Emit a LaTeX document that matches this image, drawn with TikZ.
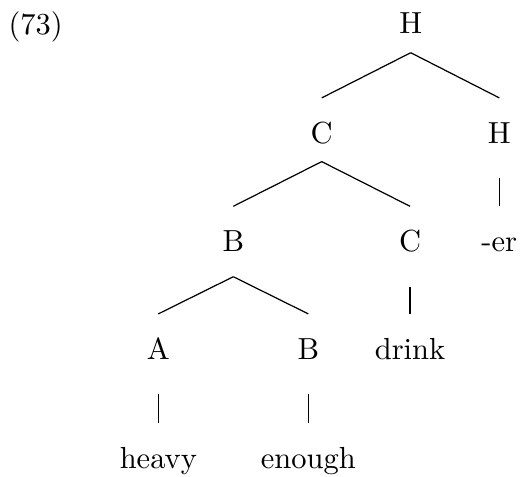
\documentclass[tikz,border=0pt]{standalone}
\begin{document}
\begin{tikzpicture}[x=0.328pt, y=-0.328pt,
    every node/.style={anchor=base, inner sep=0pt}]
    \useasboundingbox (0,0) rectangle (520,476);

    % Example number
    \node[anchor=base west] (num) at (8,34) {(73)};

    % Tree nodes, level by level
    \node (h0) at (410.7,33.5) {H};
    \node (c0) at (321.7,143.3) {C};
    \node (h1) at (499.3,143.3) {H};
    \node (b0) at (233.3,251.7) {B};
    \node (c1) at (410,251.7) {C};
    \node (er) at (499.3,251.7) {-er};
    \node (a0) at (158.3,359.3) {A};
    \node (b1) at (308.3,359.3) {B};
    \node (drink) at (410,359.3) {drink};
    \node (heavy) at (158.3,468) {heavy};
    \node (enough) at (308.3,468) {enough};

    % Branching edges
    \draw ([yshift=-6.3pt]h0.base) -- ([yshift=14.9pt]c0.base);
    \draw ([yshift=-6.3pt]h0.base) -- ([yshift=14.9pt]h1.base);
    \draw ([yshift=-6pt]c0.base) -- ([yshift=14.9pt]b0.base);
    \draw ([yshift=-6pt]c0.base) -- ([yshift=14.9pt]c1.base);
    \draw ([yshift=-8.2pt]b0.base) -- ([yshift=14.9pt]a0.base);
    \draw ([yshift=-8.2pt]b0.base) -- ([yshift=14.9pt]b1.base);

    % Terminal edges
    \draw ([yshift=-11.5pt]h1.base) -- ([yshift=14.9pt]er.base);
    \draw ([yshift=-11.5pt]c1.base) -- ([yshift=14.9pt]drink.base);
    \draw ([yshift=-11.5pt]a0.base) -- ([yshift=14.9pt]heavy.base);
    \draw ([yshift=-11.5pt]b1.base) -- ([yshift=14.9pt]enough.base);
\end{tikzpicture}
\end{document}
